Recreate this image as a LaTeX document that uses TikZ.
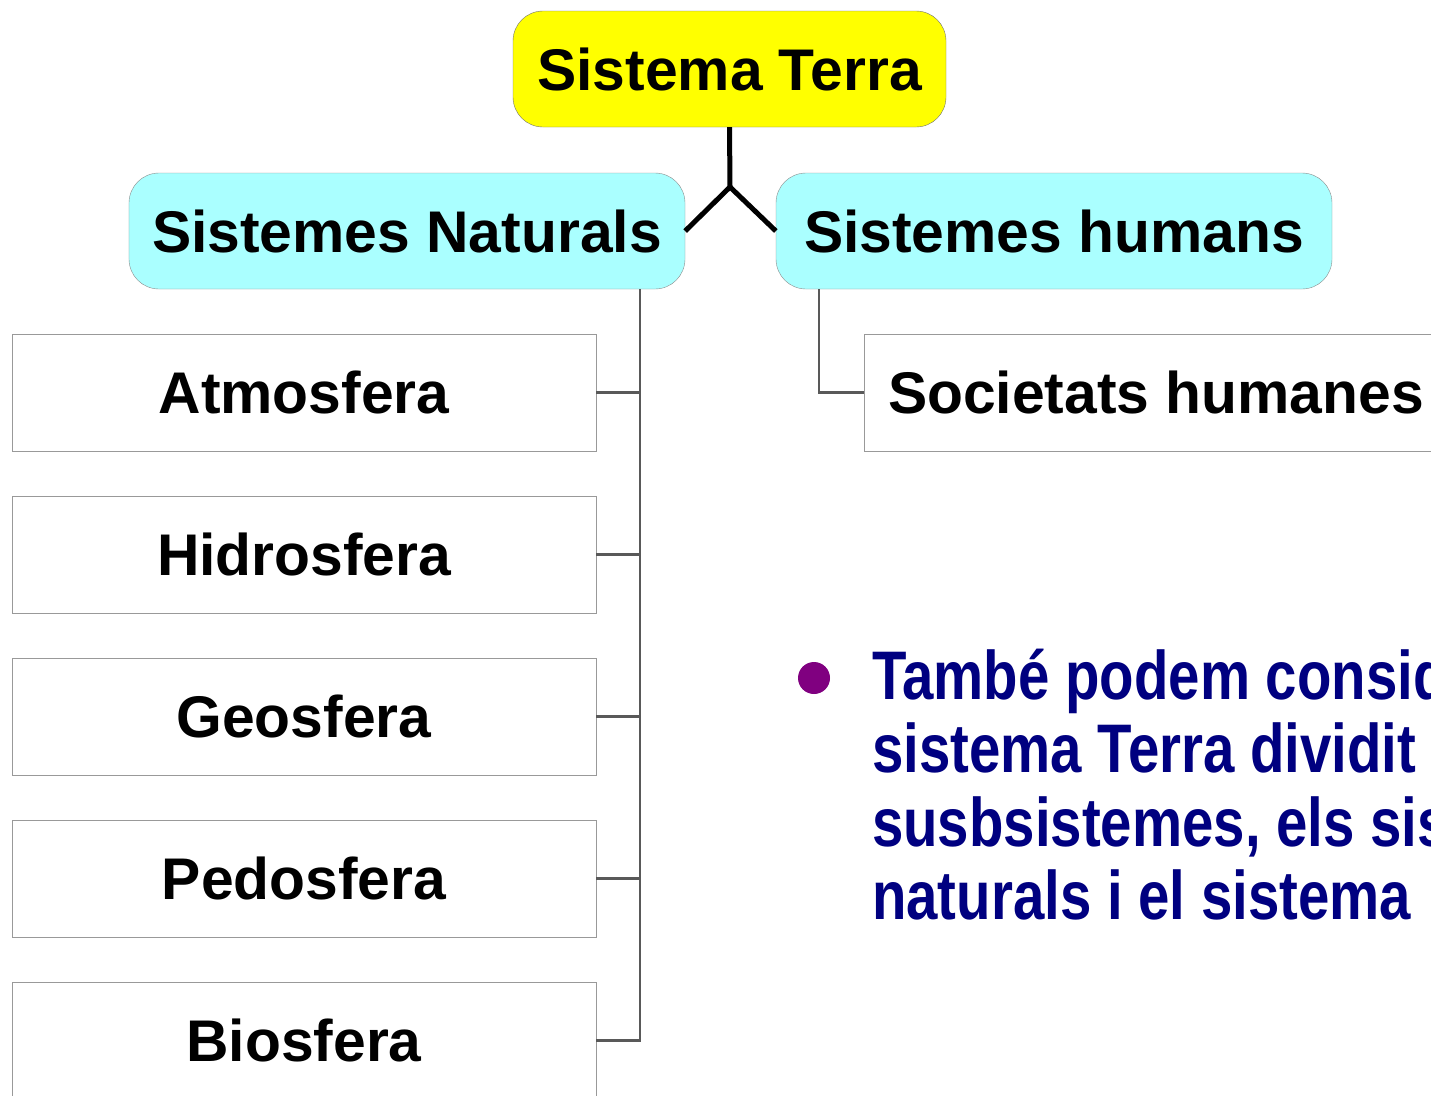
\documentclass[tikz,border=0pt]{standalone}
\usepackage{fontspec}
\setmainfont{Liberation Sans}
\newfontfamily\narrowfont[FakeStretch=0.82]{Liberation Sans}
\usetikzlibrary{positioning}
\definecolor{termyellow}{RGB}{255, 255, 0}
\definecolor{syscyan}{RGB}{170, 255, 255}
\definecolor{textnavy}{RGB}{0, 0, 128}
\definecolor{dotpurple}{RGB}{128, 0, 128}

\begin{document}
\begin{tikzpicture}[x=1bp, y=-1bp,
    boxfont/.style={font=\fontsize{59}{59}\selectfont\bfseries},
    topbox/.style={boxfont, draw=black!55, fill=termyellow, rounded corners=30bp,
      minimum width=433bp, minimum height=116bp, inner sep=0pt},
    sysbox/.style={boxfont, draw=black!45, fill=syscyan, rounded corners=30bp,
      minimum width=556bp, minimum height=116bp, inner sep=0pt},
    spherebox/.style={boxfont, draw=black!40, fill=white,
      minimum width=584bp, minimum height=117bp, inner sep=0pt},
    forkline/.style={line width=5bp},
    treeline/.style={draw=black!65, line width=2.5bp}]
  \useasboundingbox (0,0) rectangle (1431,1095);
  \clip (0,0) rectangle (1431,1095);

  \node[topbox] (terra) at (729.5,69) {Sistema Terra};
  \node[sysbox] (nat) at (407,231) {Sistemes Naturals};
  \node[sysbox] (hum) at (1054,231) {Sistemes humans};

  % fork under the root
  \coordinate (fork) at (730,187);
  \draw[forkline] (terra.south) -- (fork);
  \draw[forkline] (fork) -- (nat.east);
  \draw[forkline] (fork) -- (hum.west);

  % the five spheres
  \node[spherebox] (atmo) at (304,392.5) {Atmosfera};
  \node[spherebox] (hidro) at (304,554.5) {Hidrosfera};
  \node[spherebox] (geo) at (304,716.5) {Geosfera};
  \node[spherebox] (pedo) at (304,878.5) {Pedosfera};
  \node[spherebox] (bio) at (304,1040.5) {Biosfera};

  \coordinate (ntop) at (640,289);
  \draw[treeline] (ntop) |- (bio.east);
  \foreach \s in {atmo, hidro, geo, pedo}
    \draw[treeline] (\s.east) -- (\s.east -| ntop);

  \node[spherebox] (soc) at (1156,392.5) {Societats humanes};
  \coordinate (htop) at (819,289);
  \draw[treeline] (htop) |- (soc.west);

  % bullet text
  \node[circle, fill=dotpurple, minimum size=32bp, inner sep=0pt] (dot) at (814,678) {};
  \node[anchor=north west, inner sep=0pt, align=left, text=textnavy,
        font=\narrowfont\bfseries\fontsize{69}{73.5}\selectfont] (note) at (872,649)
    {També podem considerar el\\
     sistema Terra dividit en dos\\
     susbsistemes, els sistemes\\
     naturals i el sistema};
\end{tikzpicture}
\end{document}
